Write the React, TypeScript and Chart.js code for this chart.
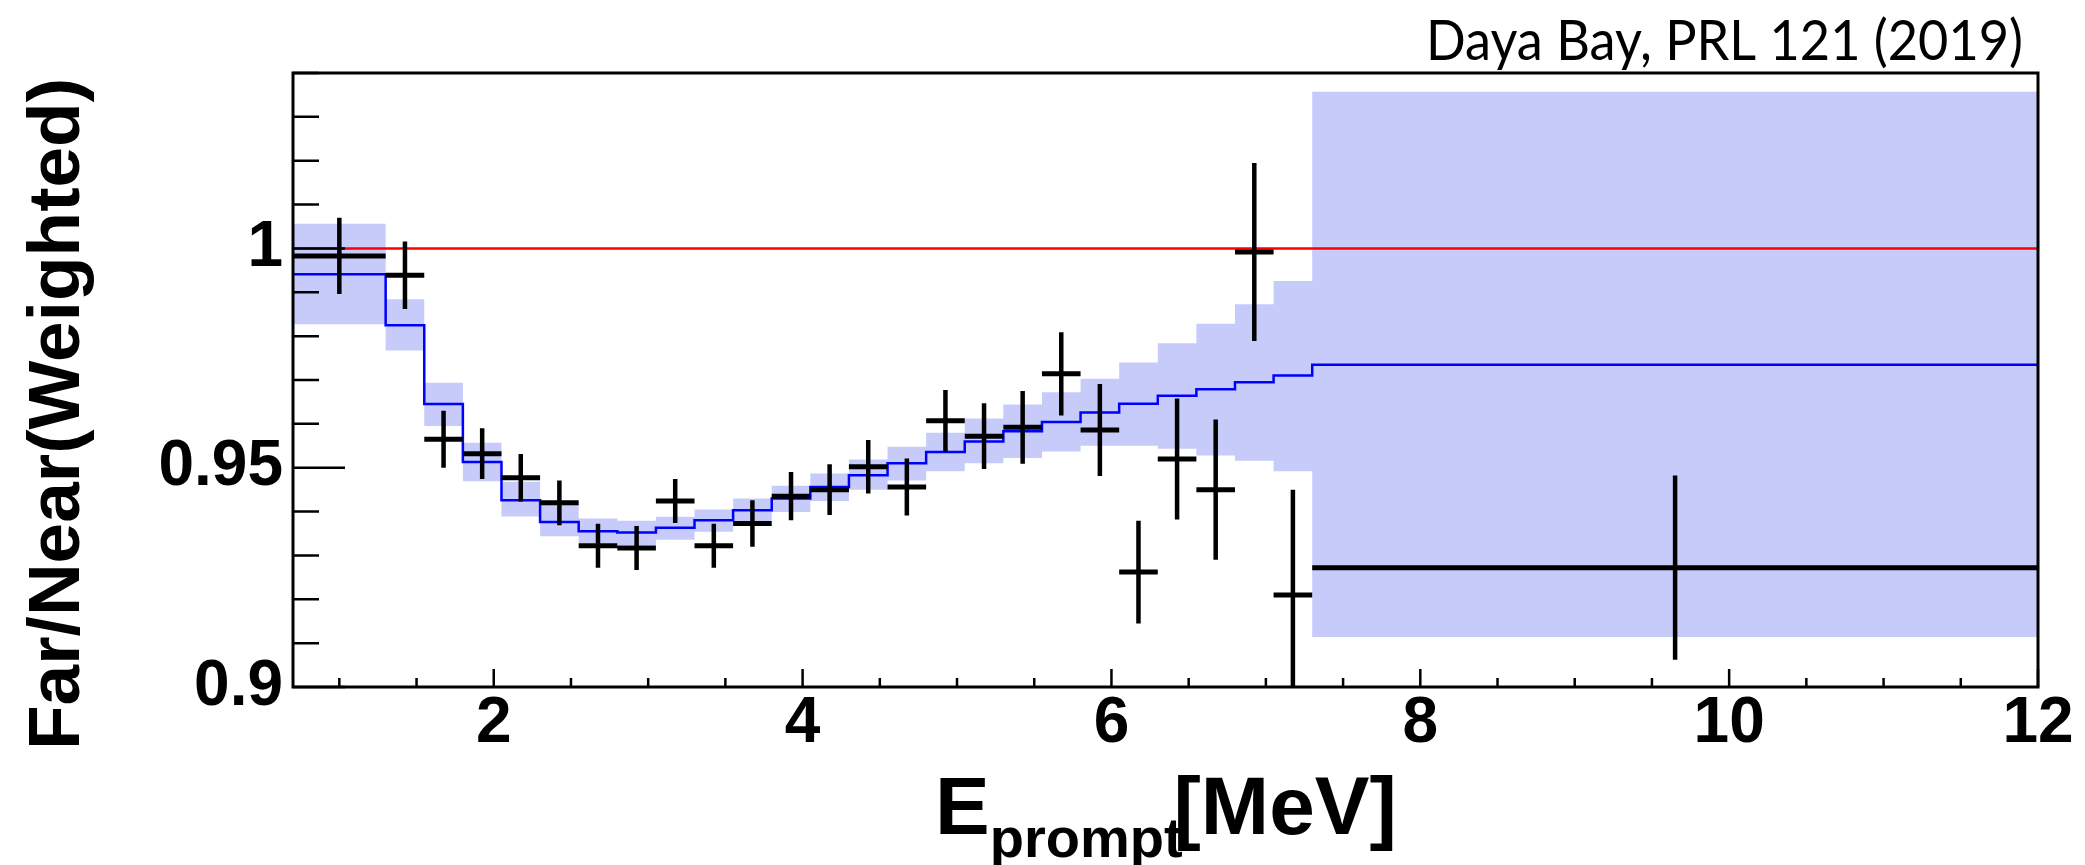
import React, { useEffect, useRef } from "react";
import { Chart, registerables } from "chart.js";

Chart.register(...registerables);

// Bin edges of the prompt-energy spectrum [MeV]
const BIN_EDGES = [
  0.7, 1.3, 1.55, 1.8, 2.05, 2.3, 2.55, 2.8, 3.05, 3.3, 3.55, 3.8, 4.05, 4.3,
  4.55, 4.8, 5.05, 5.3, 5.55, 5.8, 6.05, 6.3, 6.55, 6.8, 7.05, 7.3, 12,
];

// Measured Far/Near ratio and its statistical error (black crosses)
const RATIO = [
  0.9983, 0.9939, 0.9565, 0.9532, 0.9477, 0.942, 0.9322, 0.9317, 0.9424,
  0.9322, 0.9373, 0.9435, 0.945, 0.9502, 0.9456, 0.9607, 0.9572, 0.9592,
  0.9714, 0.9586, 0.9262, 0.952, 0.945, 0.9992, 0.921, 0.9272,
];
const RATIO_ERR = [
  0.0087, 0.0077, 0.0065, 0.0058, 0.0054, 0.0051, 0.005, 0.005, 0.005, 0.005,
  0.0053, 0.0055, 0.0058, 0.0061, 0.0065, 0.007, 0.0075, 0.0083, 0.0095,
  0.0105, 0.0117, 0.0138, 0.016, 0.0203, 0.024, 0.021,
];

// Best-fit prediction (blue histogram)
const PREDICTION = [
  0.9941, 0.9825, 0.9645, 0.9513, 0.9426, 0.9376, 0.9355, 0.9352, 0.9363,
  0.938, 0.9403, 0.943, 0.9456, 0.9483, 0.951, 0.9536, 0.956, 0.9583, 0.9604,
  0.9626, 0.9646, 0.9664, 0.9679, 0.9695, 0.971, 0.9735,
];

// Systematic band of the prediction (upper / lower edges)
const BAND_HIGH = [
  1.0056, 0.9884, 0.9694, 0.9557, 0.9468, 0.9418, 0.9384, 0.9379, 0.9388,
  0.9405, 0.943, 0.9459, 0.9487, 0.9519, 0.9548, 0.958, 0.9612, 0.9644,
  0.9672, 0.9703, 0.974, 0.9784, 0.9828, 0.9873, 0.9926, 1.0357,
];
const BAND_LOW = [
  0.9827, 0.9767, 0.9595, 0.9469, 0.9389, 0.9344, 0.9327, 0.9323, 0.9336,
  0.9354, 0.9376, 0.9399, 0.9424, 0.945, 0.9471, 0.9492, 0.951, 0.9522,
  0.9537, 0.955, 0.955, 0.9543, 0.9528, 0.9516, 0.9492, 0.9114,
];

const REFERENCE = 1;
const X_TICKS = [2, 4, 6, 8, 10, 12];
const Y_TICKS = [0.9, 0.95, 1];
const X_RANGE = [0.7, 12];
const Y_RANGE = [0.9, 1.04];
const X_MINOR_STEP = 0.5;
const Y_MINOR_STEP = 0.01;

const CAPTION = "Daya Bay, PRL 121 (2019)";
const Y_TITLE = "Far/Near(Weighted)";
const X_TITLE_MAIN = "E";
const X_TITLE_SUB = "prompt";
const X_TITLE_UNIT = "[MeV]";

const BAND_COLOR = "#c6cbfa";
const BOLD = '"Liberation Sans", Arial, sans-serif';

function stepPoints(vals: number[]) {
  return BIN_EDGES.map((e, i) => ({ x: e, y: vals[Math.min(i, vals.length - 1)] }));
}

function xErrPoints() {
  const pts: { x: number; y: number | null }[] = [];
  RATIO.forEach((v, i) => {
    pts.push({ x: BIN_EDGES[i], y: v }, { x: BIN_EDGES[i + 1], y: v }, { x: BIN_EDGES[i + 1], y: null });
  });
  return pts;
}

function yErrPoints() {
  const pts: { x: number; y: number | null }[] = [];
  RATIO.forEach((v, i) => {
    const c = (BIN_EDGES[i] + BIN_EDGES[i + 1]) / 2;
    pts.push({ x: c, y: v - RATIO_ERR[i] }, { x: c, y: v + RATIO_ERR[i] }, { x: c, y: null });
  });
  return pts;
}

const frameAndText = {
  id: "frameAndText",
  afterDatasetsDraw(chart: any) {
    const { ctx, chartArea: a, scales } = chart;
    const x = scales.x;
    const y = scales.y;
    ctx.save();
    ctx.strokeStyle = "#000";
    ctx.lineCap = "butt";
    // inside ticks
    ctx.lineWidth = 2.5;
    ctx.beginPath();
    for (let v = Math.ceil(X_RANGE[0] / X_MINOR_STEP) * X_MINOR_STEP; v <= X_RANGE[1] + 1e-9; v += X_MINOR_STEP) {
      const px = x.getPixelForValue(v);
      const major = X_TICKS.some((t) => Math.abs(t - v) < 1e-6);
      ctx.moveTo(px, a.bottom);
      ctx.lineTo(px, a.bottom - (major ? 18 : 9));
    }
    for (let k = 0; ; k++) {
      const v = Y_RANGE[0] + k * Y_MINOR_STEP;
      if (v > Y_RANGE[1] + 1e-9) break;
      const py = y.getPixelForValue(v);
      const major = Y_TICKS.some((t) => Math.abs(t - v) < 1e-6);
      ctx.moveTo(a.left, py);
      ctx.lineTo(a.left + (major ? 52 : 26), py);
    }
    ctx.stroke();
    // frame
    ctx.lineWidth = 3;
    ctx.strokeRect(a.left, a.top, a.right - a.left, a.bottom - a.top);

    ctx.fillStyle = "#000";
    // caption top right (condensed to mimic Gill Sans proportions)
    ctx.save();
    ctx.textAlign = "right";
    ctx.textBaseline = "alphabetic";
    ctx.font = '56px Lato, "Open Sans", sans-serif';
    const wCap = ctx.measureText(CAPTION).width;
    const sx = 597 / wCap;
    ctx.translate(2023, 60);
    ctx.scale(sx, 1);
    ctx.fillText(CAPTION, 0, 0);
    ctx.restore();

    // y title
    ctx.save();
    ctx.translate(79, 414);
    ctx.rotate(-Math.PI / 2);
    ctx.textAlign = "center";
    ctx.font = `bold 73px ${BOLD}`;
    ctx.fillText(Y_TITLE, 0, 0);
    ctx.restore();

    // x title with subscript
    ctx.textAlign = "left";
    ctx.font = `bold 82px ${BOLD}`;
    const x0 = 935;
    ctx.fillText(X_TITLE_MAIN, x0, 834);
    const wE = ctx.measureText(X_TITLE_MAIN).width;
    ctx.font = `bold 56px ${BOLD}`;
    ctx.fillText(X_TITLE_SUB, x0 + wE, 857);
    const wSub = ctx.measureText(X_TITLE_SUB).width;
    ctx.font = `bold 82px ${BOLD}`;
    ctx.fillText(X_TITLE_UNIT, x0 + wE + wSub - 9, 834);
    ctx.restore();
  },
};

export default function App() {
  const ref = useRef<HTMLCanvasElement | null>(null);
  useEffect(() => {
    if (!ref.current) return;
    const tickFont = { family: BOLD, weight: "bold" as const, size: 64, lineHeight: 1 };
    const chart = new Chart(ref.current, {
      type: "line",
      data: {
        datasets: [
          {
            label: "band high",
            data: stepPoints(BAND_HIGH),
            stepped: "before",
            borderWidth: 0,
            borderColor: "rgba(0,0,0,0)",
            backgroundColor: BAND_COLOR,
            fill: "+1",
            pointRadius: 0,
            order: 5,
          },
          {
            label: "band low",
            data: stepPoints(BAND_LOW),
            stepped: "before",
            borderWidth: 0,
            borderColor: "rgba(0,0,0,0)",
            fill: false,
            pointRadius: 0,
            order: 5,
          },
          {
            label: "unity",
            data: [
              { x: X_RANGE[0], y: REFERENCE },
              { x: X_RANGE[1], y: REFERENCE },
            ],
            borderColor: "#ff0000",
            borderWidth: 2.5,
            fill: false,
            pointRadius: 0,
            order: 3,
          },
          {
            label: "prediction",
            data: stepPoints(PREDICTION),
            stepped: "before",
            borderColor: "#0000ff",
            borderWidth: 2.5,
            borderJoinStyle: "miter",
            fill: false,
            pointRadius: 0,
            order: 2,
          },
          {
            label: "data x",
            data: xErrPoints(),
            borderColor: "#000",
            borderWidth: 5,
            borderCapStyle: "butt",
            spanGaps: false,
            fill: false,
            pointRadius: 0,
            order: 1,
          },
          {
            label: "data y",
            data: yErrPoints(),
            borderColor: "#000",
            borderWidth: 4.5,
            borderCapStyle: "butt",
            spanGaps: false,
            fill: false,
            pointRadius: 0,
            order: 0,
          },
        ] as any,
      },
      options: {
        animation: false,
        responsive: false,
        devicePixelRatio: 1,
        events: [],
        layout: { padding: { left: 0, top: 73, right: 47, bottom: 0 } },
        plugins: { legend: { display: false }, tooltip: { enabled: false }, title: { display: false } },
        scales: {
          x: {
            type: "linear",
            min: X_RANGE[0],
            max: X_RANGE[1],
            grid: { display: false, drawTicks: false },
            border: { display: false },
            ticks: {
              font: tickFont,
              color: "#000",
              padding: 5,
              maxRotation: 0,
              autoSkip: false,
              callback: (v: any) => String(v),
            },
            afterBuildTicks: (s: any) => {
              s.ticks = X_TICKS.map((v) => ({ value: v }));
            },
            afterFit: (s: any) => {
              s.height = 178;
            },
          },
          y: {
            type: "linear",
            min: Y_RANGE[0],
            max: Y_RANGE[1],
            grid: { display: false, drawTicks: false },
            border: { display: false },
            ticks: {
              font: tickFont,
              color: "#000",
              padding: 10,
              autoSkip: false,
              callback: (v: any) => String(v),
            },
            afterBuildTicks: (s: any) => {
              s.ticks = Y_TICKS.map((v) => ({ value: v }));
            },
            afterFit: (s: any) => {
              s.width = 293;
            },
          },
        },
      },
      plugins: [frameAndText],
    });
    return () => chart.destroy();
  }, []);
  return (
    <div style={{ position: "absolute", left: 0, top: 0, width: 2085, height: 865, background: "#fff" }}>
      <canvas ref={ref} width={2085} height={865} style={{ display: "block" }} />
    </div>
  );
}
